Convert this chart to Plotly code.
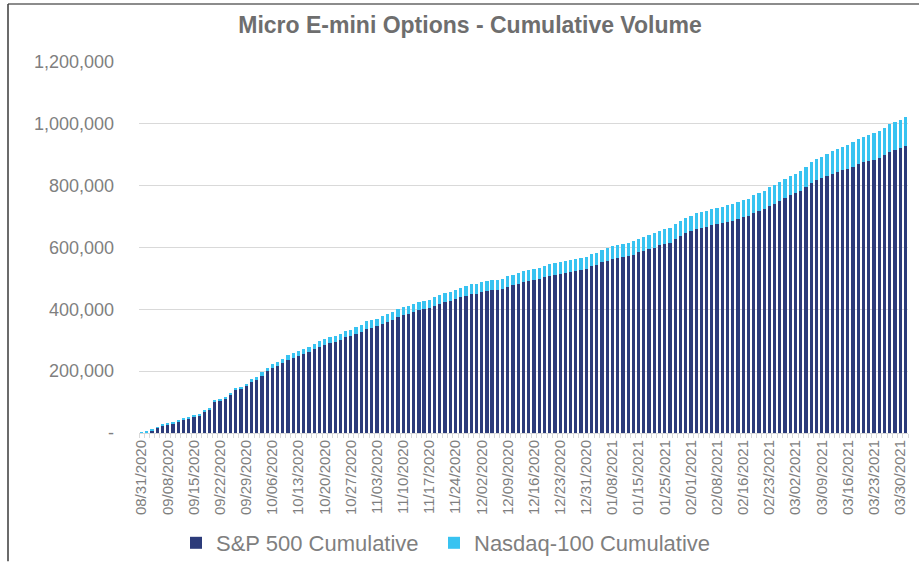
import pandas as pd
import plotly.graph_objects as go

# Trading days (US holidays excluded)
holidays = ["2020-09-07", "2020-11-26", "2020-12-25", "2021-01-01", "2021-01-18", "2021-02-15"]
dates = pd.bdate_range("2020-08-31", "2021-03-31", freq="C", holidays=holidays)
categories = [d.strftime("%m/%d/%Y") for d in dates]

sp500_cumulative = [
    1000, 3000, 9300, 16200, 23500, 26500, 30400, 37500, 45000, 45800,
    52000, 58200, 70800, 77000, 100300, 105300, 111500, 123100, 137500, 142500,
    151700, 165100, 172800, 185500, 199300, 209100, 216700, 225400, 236500, 243700,
    249200, 255600, 261700, 270200, 278900, 285300, 291500, 294500, 299600, 309700,
    312500, 321600, 327700, 337700, 340500, 346600, 353500, 359000, 365500, 376600,
    381800, 384600, 391200, 397200, 400400, 404400, 411300, 417800, 424800, 428500,
    432800, 439900, 443900, 449000, 450800, 455000, 460000, 462000, 463900, 467100,
    473600, 478100, 483300, 488700, 492000, 496200, 499400, 503900, 509100, 512300,
    514600, 517800, 521000, 524200, 527500, 530700, 540400, 543600, 553300, 557500,
    562900, 567100, 569400, 572600, 575800, 584500, 588700, 595200, 599400, 607100,
    611300, 614600, 627500, 637100, 646800, 653300, 659700, 662900, 666200, 672600,
    675800, 679100, 682300, 685500, 692000, 697500, 701600, 712300, 718800, 725200,
    734900, 741300, 751000, 760700, 770400, 775800, 783300, 796200, 809100, 817800,
    825200, 831700, 838100, 844600, 850000, 853900, 860400, 869400, 875900, 880100,
    884600, 889700, 898400, 908100, 914600, 921000, 927500,
]

nasdaq100_cumulative = [
    200, 500, 2000, 2500, 3000, 3200, 3500, 3800, 4000, 4200,
    4500, 4800, 5000, 5300, 5500, 6000, 6300, 6600, 7000, 7500,
    8000, 8500, 9500, 10500, 11000, 12900, 13000, 14000, 14500, 15000,
    16000, 17000, 17300, 18500, 19500, 19600, 19800, 20000, 20400, 21000,
    21400, 22000, 22300, 23000, 23400, 23700, 24500, 25500, 25800, 26000,
    26200, 26400, 26600, 26800, 27000, 27200, 27700, 28000, 28200, 29000,
    29200, 30500, 31000, 31600, 31800, 32000, 32200, 32300, 32400, 32500,
    33500, 33600, 34400, 34500, 34600, 34700, 34800, 35500, 36700, 36800,
    37700, 37800, 37900, 38500, 38600, 38700, 39600, 40000, 40200, 40900,
    41000, 42000, 42900, 43500, 43700, 43900, 44200, 45200, 46000, 46200,
    47400, 47600, 47800, 48000, 49300, 49400, 50700, 51200, 51600, 51700,
    52000, 52400, 54800, 54900, 55000, 55800, 55900, 56100, 56200, 57100,
    59300, 60000, 60300, 60400, 61300, 61400, 63500, 65800, 67700, 67800,
    69000, 72200, 73200, 74200, 76500, 79100, 80000, 80700, 81600, 83800,
    84800, 87100, 88100, 91300, 92000, 92500, 93500,
]

y_tickvals = [0, 200000, 400000, 600000, 800000, 1000000, 1200000]
y_ticktext = ["-", "200,000", "400,000", "600,000", "800,000", "1,000,000", "1,200,000"]
x_ticktext = [c if i % 5 == 0 else "" for i, c in enumerate(categories)]

NAVY = "#2c3b7a"
CYAN = "#38c3f1"
GREY = "#7f7f7f"
FONT = "Liberation Sans, Arial, sans-serif"

W, H = 919, 562
L, R, T, B = 139, 11, 62, 128.5
pw = W - L - R
ph = H - T - B

def px_x(p):
    return (p - L) / pw

def px_y(p):
    return (H - B - p) / ph

fig = go.Figure()
fig.add_trace(go.Bar(x=categories, y=sp500_cumulative, name="S&P 500 Cumulative",
                     marker=dict(color=NAVY, line=dict(width=0)), legend="legend", showlegend=True))
fig.add_trace(go.Bar(x=categories, y=nasdaq100_cumulative, name="Nasdaq-100 Cumulative",
                     marker=dict(color=CYAN, line=dict(width=0)), legend="legend2", showlegend=True))

leg_common = dict(xanchor="left", yanchor="middle", xref="container", yref="container",
                  orientation="h", font=dict(size=22, color=GREY, family=FONT), itemwidth=30,
                  bgcolor="rgba(0,0,0,0)", borderwidth=0)

fig.update_layout(
    width=W, height=H,
    margin=dict(l=L, r=R, t=T, b=B, autoexpand=False),
    showlegend=True,
    barmode="stack", bargap=0.38,
    plot_bgcolor="white", paper_bgcolor="white",
    font=dict(family=FONT, color=GREY),
    title=dict(text="<b>Micro E-mini Options - Cumulative Volume</b>",
               x=470 / W, xref="container", xanchor="center",
               y=1 - 25 / H, yref="container", yanchor="middle",
               font=dict(size=23, color="#6e6e6e", family=FONT)),
    xaxis=dict(type="category", tickmode="array", tickvals=categories, ticktext=x_ticktext,
               tickangle=-90, tickfont=dict(size=15, color=GREY), automargin=False,
               showline=True, linecolor="#d9d9d9", linewidth=1,
               ticks="outside", ticklen=4, tickcolor="#d9d9d9", tickson="boundaries",
               showgrid=False, range=[-0.5, len(categories) - 0.5]),
    yaxis=dict(range=[0, 1200000], tickmode="array", tickvals=y_tickvals, ticktext=y_ticktext,
               tickfont=dict(size=18, color=GREY), ticklabelstandoff=24, automargin=False,
               showgrid=True, gridcolor="#d9d9d9", gridwidth=1, zeroline=False),
    legend=dict(x=176 / W, y=1 - 543 / H, **leg_common),
    legend2=dict(x=434 / W, y=1 - 543 / H, **leg_common),
    shapes=[
        dict(type="line", xref="paper", yref="paper", x0=px_x(8), x1=px_x(919), y0=px_y(4), y1=px_y(4),
             line=dict(color="#8c8c8c", width=2)),
        dict(type="line", xref="paper", yref="paper", x0=px_x(8), x1=px_x(8), y0=px_y(4), y1=px_y(562),
             line=dict(color="#3a3a3a", width=1.5)),
    ],
)

fig.write_html("out.html", config={"displayModeBar": False},
               post_script="document.body.style.margin='0';")
